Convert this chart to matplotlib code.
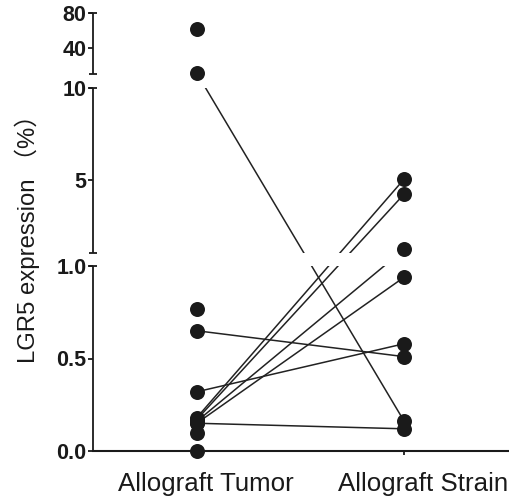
import numpy as np
import matplotlib
matplotlib.use('Agg')
import matplotlib.pyplot as plt
from matplotlib.transforms import ScaledTranslation

# ---------------- data ----------------
categories = ['Allograft Tumor', 'Allograft Strain']
tumor_paired = [11.0, 0.65, 0.32, 0.15, 0.18, 0.17, 0.16, 0.15]
strain_paired = [0.16, 0.51, 0.58, 0.12, 5.04, 4.22, 1.20, 0.94]
tumor_unpaired = [62.0, 0.77, 0.10, 0.0]
ytick_values = [0, 0.5, 1, 5, 10, 40, 80]
ytick_labels = ['0.0', '0.5', '1.0', '5', '10', '40', '80']
ylabel = 'LGR5 expression （%）'

# ---------------- broken axis scale ----------------
EPS = 1e-6
V = np.array([0, 1, 1 + EPS, 10, 10 + EPS, 80])
U = np.array([0, 185, 198, 363, 377, 438], dtype=float)

def fwd(v):
    return np.interp(v, V, U)

def inv(u):
    return np.interp(u, U, V)

W, H = 509, 497
fig = plt.figure(figsize=(W / 100, H / 100), dpi=100)
ax = fig.add_axes([93 / W, (H - 451) / H, 415 / W, 438 / H])
ax.set_yscale('function', functions=(fwd, inv))
ax.set_ylim(0, 80)
ax.set_xlim(-0.5, 1.5)

ink = '#1a1a1a'
# paired lines
for t, s in zip(tumor_paired, strain_paired):
    ax.plot([0, 1], [t, s], color='#222222', lw=1.1, zorder=2, clip_on=False)

# gaps (mask lines)
for lo, hi in [(1, 1 + EPS), (10, 10 + EPS)]:
    ax.axhspan(lo, hi, color='white', lw=0, zorder=3)

# points
ax.plot(np.zeros(len(tumor_paired)), tumor_paired, 'o', color=ink, ms=10.8,
        mec='none', zorder=5, clip_on=False)
ax.plot(np.zeros(len(tumor_unpaired)), tumor_unpaired, 'o', color=ink, ms=10.8,
        mec='none', zorder=5, clip_on=False)
ax.plot(np.ones(len(strain_paired)), strain_paired, 'o', color=ink, ms=10.8,
        mec='none', zorder=5, clip_on=False)

# broken y axis segments
ytr = ax.get_yaxis_transform()
for lo, hi in [(0, 1), (1 + EPS, 10), (10 + EPS, 80)]:
    ax.plot([0, 0], [lo, hi], color=ink, lw=1.3, transform=ytr, clip_on=False,
            zorder=6, solid_capstyle='butt')
for c in [1, 1 + EPS, 10, 10 + EPS, 80]:
    ax.plot([0], [c], marker='_', ms=5.2, mew=1.3, color=ink, transform=ytr,
            clip_on=False, zorder=6)

for sp in ['left', 'right', 'top']:
    ax.spines[sp].set_visible(False)
ax.spines['bottom'].set_linewidth(1.5)
ax.spines['bottom'].set_color(ink)
ax.spines['bottom'].set_zorder(4)

ax.set_yticks(ytick_values)
ax.set_yticklabels(ytick_labels)
ax.yaxis.set_minor_locator(matplotlib.ticker.NullLocator())
ax.tick_params(axis='y', length=3.6, width=1.3, color=ink, pad=1)
for lab in ax.get_yticklabels():
    lab.set_fontfamily('Liberation Sans')
    lab.set_fontweight('bold')
    lab.set_fontsize(15.5)
    lab.set_color(ink)

ax.set_xticks([0, 1])
ax.set_xticklabels(categories)
ax.tick_params(axis='x', length=3, width=1.3, color=ink, pad=12)
for lab, dx in zip(ax.get_xticklabels(), [9, 19]):
    lab.set_fontfamily('Liberation Sans')
    lab.set_fontsize(18.6)
    lab.set_color(ink)
    lab.set_transform(lab.get_transform() +
                      ScaledTranslation(dx / 100, 0, fig.dpi_scale_trans))

fig.text(27 / W, 1 - 233 / H, ylabel, rotation=90, ha='center', va='center',
         fontsize=17.2, color=ink, family=['Liberation Sans', 'Noto Sans CJK SC'])

fig.savefig('out.png', dpi=100, facecolor='white')
